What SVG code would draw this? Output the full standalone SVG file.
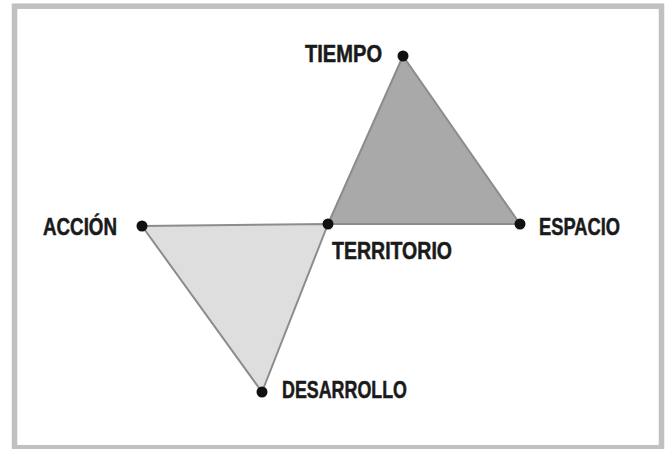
<svg xmlns="http://www.w3.org/2000/svg" width="666" height="449" viewBox="0 0 666 449">
<style>
.frame{fill:#ffffff;stroke:#c0c0c2;stroke-width:5.5}
.tri{stroke:#8c8c8c;stroke-width:2;stroke-linejoin:round}
.dark{fill:#a9a9a9}
.light{fill:#dedede}
.dot{fill:#111111}
.lbl{font-family:"Liberation Sans",Arial,sans-serif;font-weight:bold;font-size:23px;fill:#1a1a1a;stroke:#1a1a1a;stroke-width:0.5}
</style>
<rect class="frame" x="14.5" y="6.2" width="647" height="441.5"/>
<g id="connectors">
<polygon class="tri dark" points="403,56 328,224 520,224"/>
<polygon class="tri light" points="142,226 328,224 262,392"/>
</g>
<g id="tiempo"><circle class="dot" cx="403" cy="56" r="5.5"/><text class="lbl" x="305" y="62" textLength="77" lengthAdjust="spacingAndGlyphs">TIEMPO</text></g>
<g id="territorio"><circle class="dot" cx="328" cy="224" r="5.5"/><text class="lbl" x="332" y="259" textLength="120" lengthAdjust="spacingAndGlyphs">TERRITORIO</text></g>
<g id="espacio"><circle class="dot" cx="520" cy="224" r="5.5"/><text class="lbl" x="539" y="235" textLength="81" lengthAdjust="spacingAndGlyphs">ESPACIO</text></g>
<g id="accion"><circle class="dot" cx="142" cy="226" r="5.5"/><text class="lbl" x="43" y="235" textLength="74" lengthAdjust="spacingAndGlyphs">ACCIÓN</text></g>
<g id="desarrollo"><circle class="dot" cx="262" cy="392" r="5.5"/><text class="lbl" x="282" y="398" textLength="125" lengthAdjust="spacingAndGlyphs">DESARROLLO</text></g>
</svg>
